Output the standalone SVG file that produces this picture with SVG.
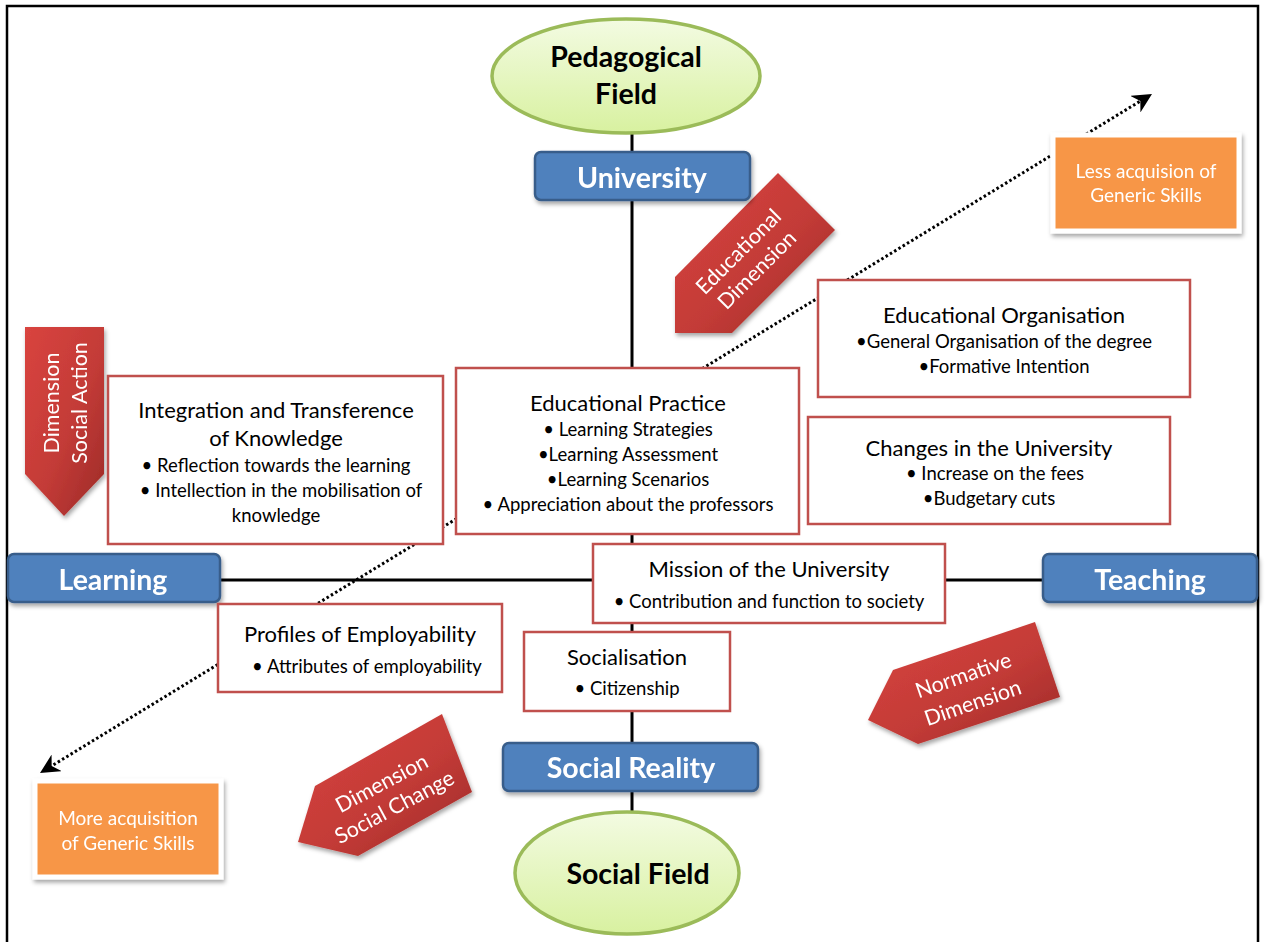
<svg xmlns="http://www.w3.org/2000/svg" width="1265" height="942" viewBox="0 0 1265 942">
  <style>
    .frame { fill: none; stroke: #000; stroke-width: 2.5; }
    .axis { stroke: #000; stroke-width: 3; fill: none; }
    .dotted { stroke: #000; stroke-width: 3; stroke-dasharray: 2.5 2.5; fill: none; }
    .field { fill: url(#fieldFill); stroke: #9bbb59; stroke-width: 3.5; }
    .field-text { font-family: Lato, "Liberation Sans", sans-serif; font-weight: bold; font-size: 28.5px; fill: #000; text-anchor: middle; }
    .pole { fill: #4f81bd; stroke: #385d8a; stroke-width: 2.5; }
    .pole-text { font-family: Lato, "Liberation Sans", sans-serif; font-weight: bold; font-size: 28.5px; fill: #fff; text-anchor: middle; }
    .card { fill: #fff; stroke: #c0504d; stroke-width: 2.5; }
    .head { font-family: Lato, "Liberation Sans", sans-serif; font-size: 22px; fill: #000; text-anchor: middle; }
    .item { font-family: Lato, "Liberation Sans", sans-serif; font-size: 18.5px; fill: #000; text-anchor: middle; }
    .skill { fill: #f79646; stroke: #fff; stroke-width: 5; }
    .skill-text { font-family: Lato, "Liberation Sans", sans-serif; font-size: 19px; fill: #fff; text-anchor: middle; }
    .dim { fill: url(#dimFill); }
    .dim-text { font-family: Lato, "Liberation Sans", sans-serif; font-size: 21.5px; fill: #fff; text-anchor: middle; }
  </style>
  <defs>
    <linearGradient id="fieldFill" x1="0" y1="0" x2="0" y2="1">
      <stop offset="0" stop-color="#f3fbe2"/>
      <stop offset="1" stop-color="#d8f1a0"/>
    </linearGradient>
    <linearGradient id="dimFill" x1="0" y1="0" x2="1" y2="1">
      <stop offset="0" stop-color="#d9443f"/>
      <stop offset="0.55" stop-color="#c33b37"/>
      <stop offset="1" stop-color="#9c2a27"/>
    </linearGradient>
    <filter id="shadow" x="-20%" y="-20%" width="140%" height="150%">
      <feDropShadow dx="1.5" dy="3" stdDeviation="2" flood-color="#000" flood-opacity="0.35"/>
    </filter>
    <marker id="head" viewBox="0 0 10 10" refX="7" refY="5" markerWidth="6.5" markerHeight="6.5" orient="auto-start-reverse" markerUnits="strokeWidth">
      <path d="M0,0 L10,5 L0,10 L3,5 z" fill="#000"/>
    </marker>
  </defs>

  <!-- outer frame -->
  <rect class="frame" x="7" y="6" width="1251" height="960"/>

  <!-- connectors: axes and the skills gradient line -->
  <g id="connectors">
    <line class="axis" x1="632" y1="130" x2="632" y2="815"/>
    <line class="axis" x1="220" y1="580" x2="1043" y2="580"/>
    <line class="dotted" x1="45" y1="770" x2="1147" y2="97" marker-start="url(#head)" marker-end="url(#head)"/>
  </g>

  <!-- dimension arrows -->
  <g id="dim-educational" filter="url(#shadow)">
    <polygon class="dim" points="778,173 835,230 732,333 675,333 675,277"/>
    <g transform="translate(748,261) rotate(-45)">
      <text class="dim-text" x="0" y="-6">Educational</text>
      <text class="dim-text" x="0" y="20">Dimension</text>
    </g>
  </g>
  <g id="dim-social-action" filter="url(#shadow)">
    <polygon class="dim" points="25,327 104,327 104,474 64,516 25,474"/>
    <g transform="translate(66,403) rotate(-90)">
      <text class="dim-text" x="0" y="-7">Dimension</text>
      <text class="dim-text" x="0" y="21">Social Action</text>
    </g>
  </g>
  <g id="dim-normative" filter="url(#shadow)">
    <polygon class="dim" points="1035,622 1060,697 918,744 868,720 893,670"/>
    <g transform="translate(968,689) rotate(-19)">
      <text class="dim-text" x="0" y="-7">Normative</text>
      <text class="dim-text" x="0" y="22">Dimension</text>
    </g>
  </g>
  <g id="dim-social-change" filter="url(#shadow)">
    <polygon class="dim" points="442,714 472,792 358,856 298,842 315,786"/>
    <g transform="translate(388,795) rotate(-28)">
      <text class="dim-text" x="0" y="-6">Dimension</text>
      <text class="dim-text" x="0" y="21">Social Change</text>
    </g>
  </g>

  <!-- fields -->
  <g id="pedagogical-field">
    <ellipse class="field" cx="626" cy="76" rx="134" ry="57"/>
    <text class="field-text" x="626" y="67">Pedagogical</text>
    <text class="field-text" x="626" y="104">Field</text>
  </g>
  <g id="social-field">
    <ellipse class="field" cx="627" cy="873" rx="112" ry="61"/>
    <text class="field-text" x="638" y="884">Social Field</text>
  </g>

  <!-- poles of the axes -->
  <g id="university" filter="url(#shadow)">
    <rect class="pole" x="535" y="152" width="215" height="48" rx="6"/>
    <text class="pole-text" x="642" y="188">University</text>
  </g>
  <g id="learning" filter="url(#shadow)">
    <rect class="pole" x="8" y="554" width="212" height="48" rx="6"/>
    <text class="pole-text" x="113" y="590">Learning</text>
  </g>
  <g id="teaching" filter="url(#shadow)">
    <rect class="pole" x="1043" y="554" width="214" height="48" rx="6"/>
    <text class="pole-text" x="1150" y="590">Teaching</text>
  </g>
  <g id="social-reality" filter="url(#shadow)">
    <rect class="pole" x="503" y="743" width="255" height="48" rx="6"/>
    <text class="pole-text" x="631" y="778">Social Reality</text>
  </g>

  <!-- content cards -->
  <g id="integration">
    <rect class="card" x="108" y="376" width="335" height="168"/>
    <text class="head" x="276" y="418">Integration and Transference</text>
    <text class="head" x="276" y="446">of Knowledge</text>
    <text class="item" x="276" y="472">• Reflection towards the learning</text>
    <text class="item" x="281" y="497">• Intellection in the mobilisation of</text>
    <text class="item" x="276" y="522">knowledge</text>
  </g>
  <g id="educational-practice">
    <rect class="card" x="456" y="368" width="343" height="166"/>
    <text class="head" x="628" y="411">Educational Practice</text>
    <text class="item" x="628" y="436">• Learning Strategies</text>
    <text class="item" x="628" y="461">•Learning Assessment</text>
    <text class="item" x="628" y="486">•Learning Scenarios</text>
    <text class="item" x="628" y="511">• Appreciation about the professors</text>
  </g>
  <g id="educational-organisation">
    <rect class="card" x="818" y="280" width="372" height="117"/>
    <text class="head" x="1004" y="323">Educational Organisation</text>
    <text class="item" x="1004" y="348">•General Organisation of the degree</text>
    <text class="item" x="1004" y="373">•Formative Intention</text>
  </g>
  <g id="changes-university">
    <rect class="card" x="808" y="417" width="362" height="107"/>
    <text class="head" x="989" y="456">Changes in the University</text>
    <text class="item" x="995" y="480">• Increase on the fees</text>
    <text class="item" x="989" y="505">•Budgetary cuts</text>
  </g>
  <g id="mission">
    <rect class="card" x="593" y="544" width="352" height="79"/>
    <text class="head" x="769" y="577">Mission of the University</text>
    <text class="item" x="769" y="608">• Contribution and function to society</text>
  </g>
  <g id="profiles">
    <rect class="card" x="218" y="604" width="284" height="88"/>
    <text class="head" x="360" y="642">Profiles of Employability</text>
    <text class="item" x="367" y="673">• Attributes of employability</text>
  </g>
  <g id="socialisation">
    <rect class="card" x="524" y="632" width="206" height="79"/>
    <text class="head" x="627" y="665">Socialisation</text>
    <text class="item" x="627" y="695">• Citizenship</text>
  </g>

  <!-- generic skills ends -->
  <g id="less-skills" filter="url(#shadow)">
    <rect class="skill" x="1053" y="135" width="186" height="96"/>
    <text class="skill-text" x="1146" y="178">Less acquision of</text>
    <text class="skill-text" x="1146" y="202">Generic Skills</text>
  </g>
  <g id="more-skills" filter="url(#shadow)">
    <rect class="skill" x="35" y="781" width="186" height="96"/>
    <text class="skill-text" x="128" y="825">More acquisition</text>
    <text class="skill-text" x="128" y="850">of Generic Skills</text>
  </g>
</svg>
